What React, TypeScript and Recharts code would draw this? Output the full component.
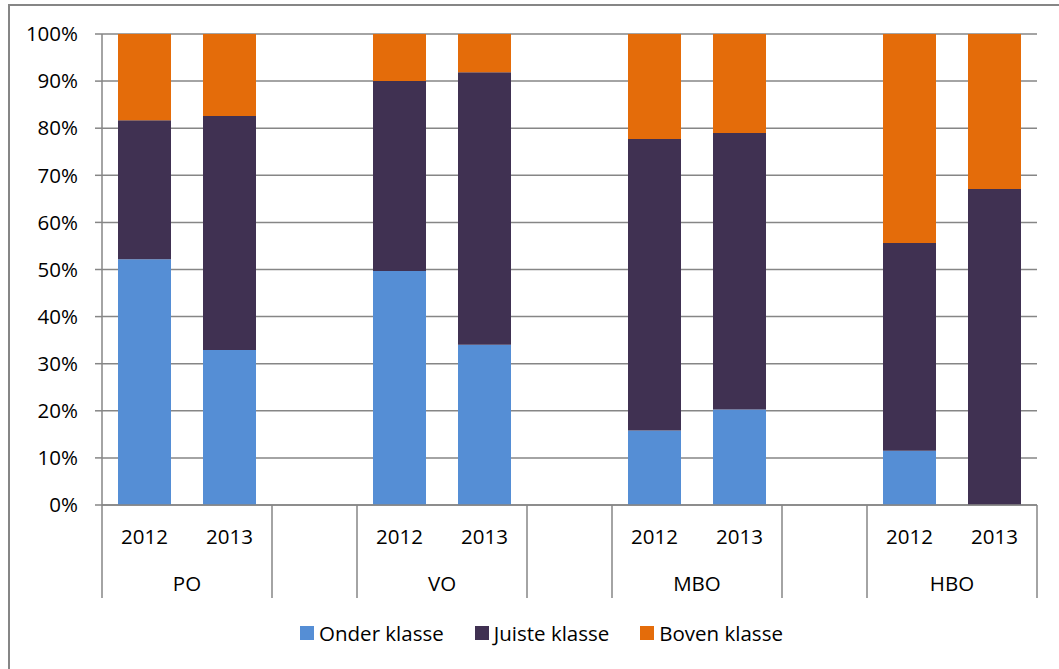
import { BarChart, Bar, XAxis, YAxis, CartesianGrid, Legend } from 'recharts';

// --- chart values ---
const levels = ['PO', 'VO', 'MBO', 'HBO'];
const years = ['2012', '2013'];
const yTicks = [0, 10, 20, 30, 40, 50, 60, 70, 80, 90, 100];

// one value per level/year, in order PO 2012, PO 2013, VO 2012, ...
const onderKlasse = [52.2, 32.9, 49.7, 34.0, 15.8, 20.3, 11.5, 0];
const juisteKlasse = [29.5, 49.7, 40.3, 57.9, 61.9, 58.7, 44.1, 67.1];
const bovenKlasse = [18.3, 17.4, 10.0, 8.1, 22.3, 21.0, 44.4, 32.9];

const seriesNames = ['Onder klasse', 'Juiste klasse', 'Boven klasse'];
const colors = ['#558ED5', '#403152', '#E46C0A'];

const FONT = '"Open Sans", sans-serif';
const FS = 20.5;
const GRID = '#868686';

// Excel style multi level axis: each level gets its years, then an empty slot
type Row = { key: string; year: string; level: string; first: boolean; onder?: number; juiste?: number; boven?: number };
const data: Row[] = [];
levels.forEach((lvl, li) => {
  years.forEach((yr, yi) => {
    const i = li * years.length + yi;
    data.push({
      key: `${lvl}-${yr}`,
      year: yr,
      level: lvl,
      first: yi === 0,
      onder: onderKlasse[i],
      juiste: juisteKlasse[i],
      boven: bovenKlasse[i],
    });
  });
  if (li < levels.length - 1) data.push({ key: `gap-${li}`, year: '', level: '', first: false });
});

const W = 1059;
const H = 669;
const plotLeft = 102;
const plotRight = 1037;
const band = (plotRight - plotLeft) / data.length;

// draws the year label, the group label and the separator lines
const CategoryTick = (props: any) => {
  const { x, y, index } = props;
  const row = data[index];
  const left = x - band / 2;
  const right = x + band / 2;
  const next = data[index + 1];
  const lines: number[] = [];
  if (index === 0) lines.push(left);
  // no line between the two years of one level
  if (!(row.year && next && next.year)) lines.push(right);
  return (
    <g>
      {lines.map((lx, k) => (
        <line key={k} x1={lx} x2={lx} y1={y} y2={y + 93} stroke={GRID} strokeWidth={1.5} />
      ))}
      {row.year && (
        <text x={x} y={y + 31} textAnchor="middle" dominantBaseline="central" fontSize={FS} fontFamily={FONT} fill="#000">
          {row.year}
        </text>
      )}
      {row.first && (
        <text x={right} y={y + 78} textAnchor="middle" dominantBaseline="central" fontSize={FS} fontFamily={FONT} fill="#000">
          {row.level}
        </text>
      )}
    </g>
  );
};

const LegendContent = () => (
  <div style={{ display: 'flex', justifyContent: 'center', alignItems: 'center', height: 40, paddingLeft: 46, fontFamily: FONT, fontSize: FS, color: '#000' }}>
    {seriesNames.map((name, i) => (
      <div key={name} style={{ display: 'flex', alignItems: 'center', marginRight: i < seriesNames.length - 1 ? 31 : 0 }}>
        <span style={{ display: 'inline-block', width: 14, height: 14, background: colors[i], marginRight: 5 }} />
        <span>{name}</span>
      </div>
    ))}
  </div>
);

export default function App() {
  return (
    <div>
      <div
        style={{
          position: 'absolute',
          left: 8,
          top: 4,
          width: W - 8,
          height: H - 4,
          boxSizing: 'border-box',
          borderLeft: `2px solid ${GRID}`,
          borderTop: `2px solid ${GRID}`,
        }}
      />
      <div style={{ position: 'absolute', left: 0, top: 0 }}>
        <BarChart
          width={W}
          height={H}
          data={data}
          margin={{ top: 34, right: W - plotRight, left: 0, bottom: 16 }}
        >
          <CartesianGrid vertical={false} stroke={GRID} strokeWidth={1.5} />
          <XAxis
            dataKey="key"
            height={108}
            interval={0}
            tickSize={0}
            tickMargin={0}
            tickLine={false}
            axisLine={{ stroke: GRID, strokeWidth: 1.5 }}
            tick={<CategoryTick />}
          />
          <YAxis
            width={plotLeft}
            domain={[0, 100]}
            ticks={yTicks}
            interval={0}
            tickFormatter={(v: number) => `${v}%`}
            tickSize={7}
            tickMargin={17}
            tickLine={{ stroke: GRID, strokeWidth: 1.5 }}
            axisLine={{ stroke: GRID, strokeWidth: 1.5 }}
            tick={{ fontSize: FS, fontFamily: FONT, fill: '#000' }}
          />
          <Legend verticalAlign="bottom" height={40} content={<LegendContent />} />
          <Bar dataKey="onder" name={seriesNames[0]} stackId="a" fill={colors[0]} barSize={53} isAnimationActive={false} />
          <Bar dataKey="juiste" name={seriesNames[1]} stackId="a" fill={colors[1]} barSize={53} isAnimationActive={false} />
          <Bar dataKey="boven" name={seriesNames[2]} stackId="a" fill={colors[2]} barSize={53} isAnimationActive={false} />
        </BarChart>
      </div>
    </div>
  );
}
